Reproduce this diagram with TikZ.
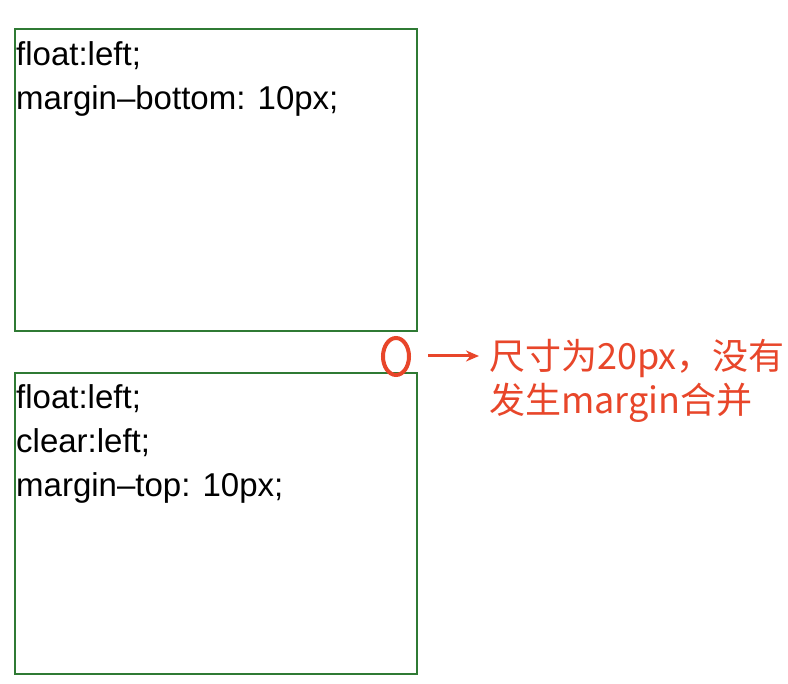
\documentclass[tikz,border=0pt]{standalone}
\usepackage{fontspec}
\usetikzlibrary{shapes.geometric,arrows.meta}
\setmainfont{Liberation Sans}
\newfontfamily\cjk{Noto Sans CJK SC}
\definecolor{boxgreen}{HTML}{2F7A34}
\definecolor{annred}{HTML}{E8462A}
\begin{document}
\begin{tikzpicture}[x=1pt,y=1pt,
  cssbox/.style={draw=boxgreen,line width=2pt,fill=white},
  code/.style={anchor=base west,font=\fontsize{33}{44}\selectfont,inner sep=0pt},
  note/.style={anchor=base west,text=annred,font=\cjk\fontsize{36}{44}\selectfont,inner sep=0pt}]
\useasboundingbox (0,0) rectangle (788,684);
\fill[white] (0,0) rectangle (788,684);
\draw[cssbox] (15,655) rectangle (417,353);
\node[code] (t1a) at (16,618) {float:left;};
\node[code] (t1b) at (16,574) {margin–bottom: 10px;};
\draw[cssbox] (15,311) rectangle (417,10);
\node[code] (t2a) at (16,275) {float:left;};
\node[code] (t2b) at (16,231) {clear:left;};
\node[code] (t2c) at (16,187) {margin–top: 10px;};
\node[draw=annred,line width=4pt,ellipse,minimum width=26pt,minimum height=37pt,inner sep=0pt] (o) at (396,327.5) {};
\coordinate (a0) at (428,328);
\node[note] (n1) at (489,314) {尺寸为20px，没有};
\node[note] (n2) at (489,270) {发生margin合并};
\draw[annred,line width=3pt,-{Stealth[length=13pt,width=11pt]}] (a0) -- (479,328);
\end{tikzpicture}
\end{document}
